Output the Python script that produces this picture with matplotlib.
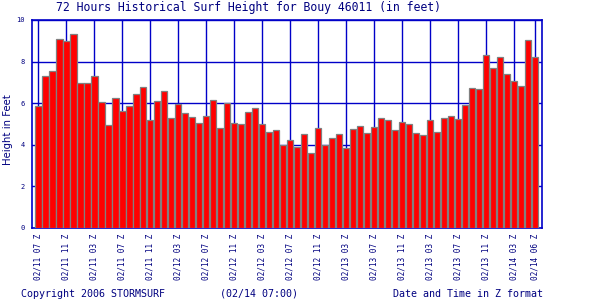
import numpy as np
import matplotlib
matplotlib.use("Agg")
from matplotlib import pyplot as plt

# hourly surf height, 02/11 07Z .. 02/14 06Z
heights = [5.87, 7.29, 7.53, 9.07, 8.97, 9.31, 6.96, 6.96, 7.29, 6.04,
           4.94, 6.23, 5.61, 5.87, 6.43, 6.76, 5.18, 6.09, 6.57, 5.27,
           5.95, 5.51, 5.32, 5.03, 5.37, 6.14, 4.79, 6.00, 5.03, 4.99,
           5.56, 5.75, 4.99, 4.60, 4.70, 3.98, 4.22, 3.88, 4.50, 3.59,
           4.79, 3.98, 4.31, 4.50, 3.83, 4.75, 4.89, 4.55, 4.84, 5.27,
           5.18, 4.70, 5.08, 4.99, 4.55, 4.46, 5.18, 4.60, 5.27, 5.37,
           5.22, 5.90, 6.72, 6.67, 8.30, 7.68, 8.21, 7.39, 7.05, 6.83,
           9.02, 8.21]
tick_idx = [0, 4, 8, 12, 16, 20, 24, 28, 32, 36, 40, 44, 48, 52, 56, 60, 64, 68, 71]
tick_labels = ["02/11 07 Z", "02/11 11 Z", "02/11 03 Z", "02/11 07 Z", "02/11 11 Z",
               "02/12 03 Z", "02/12 07 Z", "02/12 11 Z", "02/12 03 Z", "02/12 07 Z",
               "02/12 11 Z", "02/13 03 Z", "02/13 07 Z", "02/13 11 Z", "02/13 03 Z",
               "02/13 07 Z", "02/13 11 Z", "02/14 03 Z", "02/14 06 Z"]

navy = "#000080"
blue = "#0000c8"
mono = "DejaVu Sans Mono"

fig = plt.figure(figsize=(6, 3), dpi=100)
ax = fig.add_axes([32 / 600, 72 / 300, 510 / 600, 208 / 300])

x = np.arange(len(heights))
ax.bar(x, heights, width=0.88, color="#ff0000", edgecolor="#808080", linewidth=0.9, zorder=3)

ax.set_xlim(-0.92, 71.95)
ax.set_ylim(0, 10)
ax.set_yticks([0, 2, 4, 6, 8, 10])
ax.set_xticks(tick_idx)
ax.set_xticklabels(tick_labels, rotation=90, family=mono, fontsize=5.6, color=navy)
ax.tick_params(axis="y", labelsize=5, labelcolor=navy, length=0, pad=5)
ax.tick_params(axis="x", length=0, pad=4)
for t in ax.get_yticklabels():
    t.set_family(mono)
ax.grid(True, color=blue, linewidth=1.0, zorder=1)
for s in ax.spines.values():
    s.set_color(blue)
    s.set_linewidth(1.2)

fig.text(8 / 600, 1 - 130 / 300, "Height in Feet", rotation=90,
         ha="center", va="center", fontsize=7.3, color=navy)

fig.text(249 / 600, 1 - 8 / 300, "72 Hours Historical Surf Height for Bouy 46011 (in feet)",
         ha="center", va="center", family=mono, fontsize=8.3, color=navy)
fig.text(21 / 600, 1 - 294 / 300, "Copyright 2006 STORMSURF",
         ha="left", va="center", family=mono, fontsize=7.2, color=navy)
fig.text(220 / 600, 1 - 294 / 300, "(02/14 07:00)",
         ha="left", va="center", family=mono, fontsize=7.2, color=navy)
fig.text(543 / 600, 1 - 294 / 300, "Date and Time in Z format",
         ha="right", va="center", family=mono, fontsize=7.2, color=navy)

fig.savefig("out.png", dpi=100)
